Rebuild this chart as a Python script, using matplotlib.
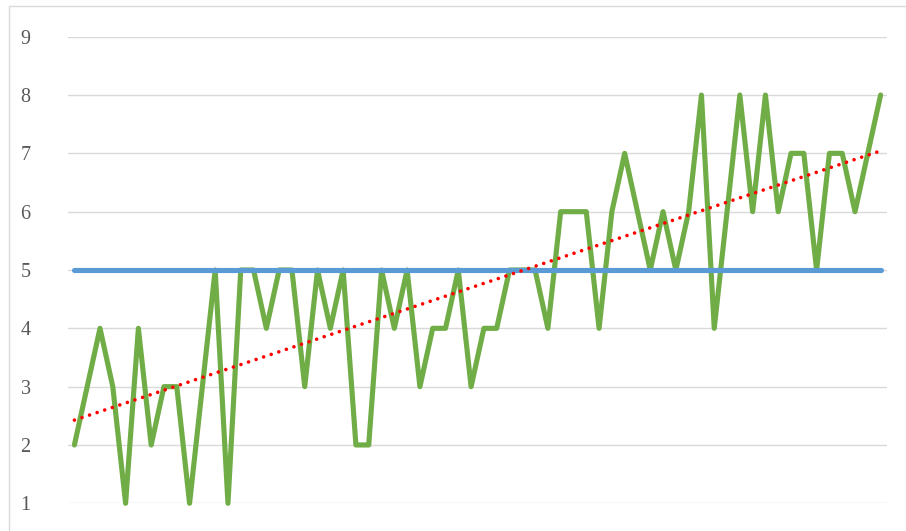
import matplotlib
matplotlib.use("Agg")
import matplotlib.pyplot as plt
from matplotlib.patches import Rectangle
import numpy as np

# values, one per point
values = [2, 3, 4, 3, 1, 4, 2, 3, 3, 1, 3, 5, 1, 5, 5, 4,
          5, 5, 3, 5, 4, 5, 2, 2, 5, 4, 5, 3, 4, 4, 5, 3,
          4, 4, 5, 5, 5, 4, 6, 6, 6, 4, 6, 7, 6, 5, 6, 5,
          6, 8, 4, 6, 8, 6, 8, 6, 7, 7, 5, 7, 7, 6, 7, 8]
target = 5
y_ticks = [1, 2, 3, 4, 5, 6, 7, 8, 9]

GREEN = '#70AD47'
BLUE = '#5B9BD5'
RED = '#FF0000'
GRID = '#D9D9D9'

x = np.arange(len(values))
# linear trend line, like the spreadsheet's trendline
slope, intercept = np.polyfit(x, values, 1)
trend = slope * x + intercept

fig = plt.figure(figsize=(9.06, 5.31), dpi=100)
ax = fig.add_axes([68 / 906, 1 - 503.3 / 531, 819 / 906, 466.6 / 531])

ax.plot(x, values, color=GREEN, linewidth=3.7, clip_on=False,
        solid_joinstyle='round', solid_capstyle='round', zorder=3)
ax.plot(x, [target] * len(x), color=BLUE, linewidth=3.7, clip_on=False,
        solid_capstyle='round', zorder=4)
ax.plot(x, trend, color=RED, linewidth=2.6, linestyle=(0, (0.01, 2.2)),
        dash_capstyle='round', clip_on=False, zorder=5)

ax.set_xlim(-0.5, len(values) - 0.5)
ax.set_ylim(1, 9)
ax.set_yticks(y_ticks)
ax.set_yticklabels([str(t) for t in y_ticks], fontfamily='Liberation Serif',
                   fontsize=14.5, color='#595959')
ax.set_xticks([])
ax.tick_params(axis='y', length=0, pad=27)
ax.yaxis.grid(True, color=GRID, linewidth=1.0, zorder=0)
ax.set_axisbelow(True)
for s in ax.spines.values():
    s.set_visible(False)

# chart border (cropped at right and bottom)
fig.patches.append(Rectangle((8.5 / 906, -0.2), 1.2, 1.2 - 6 / 531,
                             transform=fig.transFigure, fill=False,
                             edgecolor=GRID, linewidth=1.0))

fig.savefig('out.png', dpi=100)
